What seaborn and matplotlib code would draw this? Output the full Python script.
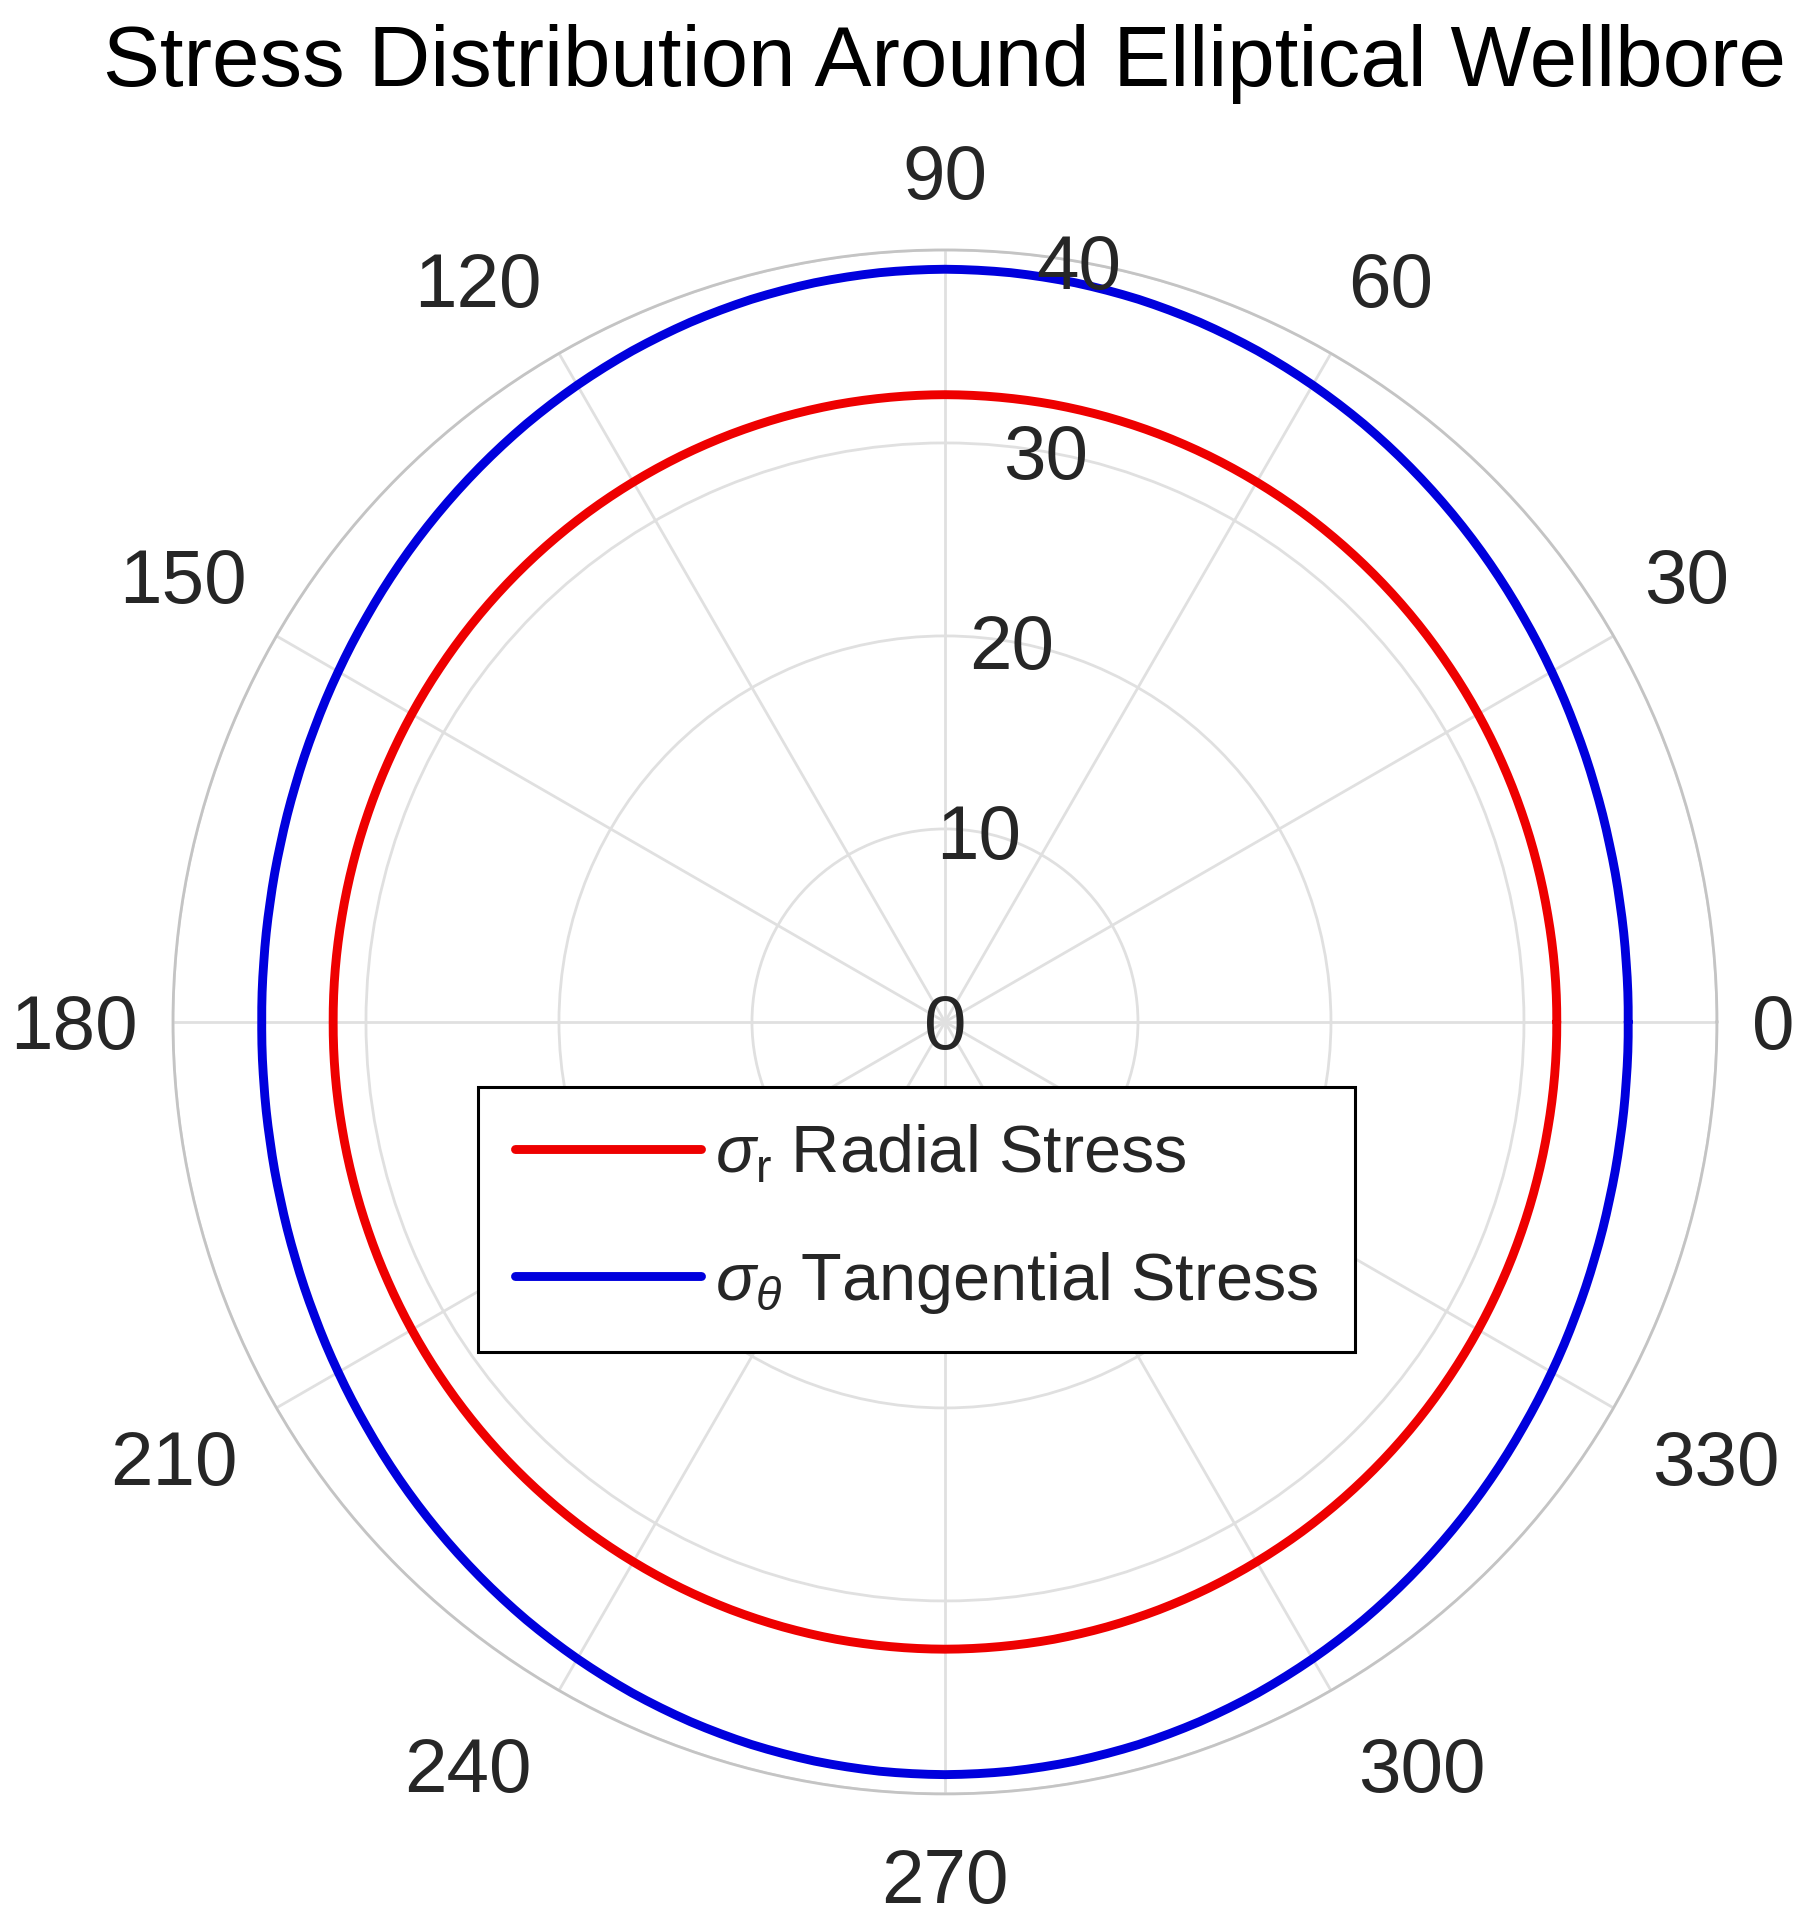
import numpy as np
import pandas as pd
import matplotlib
matplotlib.use("Agg")
import matplotlib.pyplot as plt
import seaborn as sns

# angle (deg) and stresses, every 5 degrees
theta_deg = list(range(0, 360, 5))
sigma_r = [31.70, 31.71, 31.72, 31.75, 31.79, 31.84, 31.90, 31.96, 32.03, 32.10, 32.17, 32.24, 32.30, 32.36, 32.41, 32.45, 32.48, 32.49,
           32.50, 32.49, 32.48, 32.45, 32.41, 32.36, 32.30, 32.24, 32.17, 32.10, 32.03, 31.96, 31.90, 31.84, 31.79, 31.75, 31.72, 31.71,
           31.70, 31.71, 31.72, 31.75, 31.79, 31.84, 31.90, 31.96, 32.03, 32.10, 32.17, 32.24, 32.30, 32.36, 32.41, 32.45, 32.48, 32.49,
           32.50, 32.49, 32.48, 32.45, 32.41, 32.36, 32.30, 32.24, 32.17, 32.10, 32.03, 31.96, 31.90, 31.84, 31.79, 31.75, 31.72, 31.71]
sigma_t = [35.40, 35.43, 35.51, 35.64, 35.82, 36.04, 36.30, 36.58, 36.89, 37.20, 37.51, 37.82, 38.10, 38.36, 38.58, 38.76, 38.89, 38.97,
           39.00, 38.97, 38.89, 38.76, 38.58, 38.36, 38.10, 37.82, 37.51, 37.20, 36.89, 36.58, 36.30, 36.04, 35.82, 35.64, 35.51, 35.43,
           35.40, 35.43, 35.51, 35.64, 35.82, 36.04, 36.30, 36.58, 36.89, 37.20, 37.51, 37.82, 38.10, 38.36, 38.58, 38.76, 38.89, 38.97,
           39.00, 38.97, 38.89, 38.76, 38.58, 38.36, 38.10, 37.82, 37.51, 37.20, 36.89, 36.58, 36.30, 36.04, 35.82, 35.64, 35.51, 35.43]

theta_ticks = [0, 30, 60, 90, 120, 150, 180, 210, 240, 270, 300, 330]
r_ticks = [0, 10, 20, 30, 40]
r_max = 40

sns.set_theme(style="white")
plt.rcParams['font.family'] = ['Liberation Sans', 'DejaVu Sans']
plt.rcParams['mathtext.fontset'] = 'custom'
plt.rcParams['mathtext.rm'] = 'Liberation Sans'
plt.rcParams['mathtext.it'] = 'Liberation Sans:italic'

# close the loop at 360 deg
df = pd.DataFrame({
    "theta": np.deg2rad(theta_deg + [360]),
    "sr": sigma_r + [sigma_r[0]],
    "st": sigma_t + [sigma_t[0]],
})

fig = plt.figure(figsize=(18.07, 19.30), dpi=100)
ax = fig.add_axes([0.0957, 0.0705, 0.8545, 0.80], projection="polar")

sns.lineplot(data=df, x="theta", y="sr", sort=False, estimator=None, ax=ax, color="#ee0000",
             linewidth=6.4, label=r"$\sigma_{\mathrm{r}}$ Radial Stress")
sns.lineplot(data=df, x="theta", y="st", sort=False, estimator=None, ax=ax, color="#0000dd",
             linewidth=6.4, label=r"$\sigma_{\theta}$ Tangential Stress")

# let the polar transform bend the segments into arcs
for line in ax.lines:
    line.get_path()._interpolation_steps = 8

ax.set_ylim(0, r_max)
ax.set_xticks(np.deg2rad(theta_ticks))
ax.set_yticks(r_ticks)
ax.set_xticklabels([])
ax.set_yticklabels([])
ax.set_xlabel("")
ax.set_ylabel("")
ax.grid(True, color="#e0e0e0", linewidth=2.0)
ax.spines["polar"].set_color("#c4c4c4")
ax.spines["polar"].set_linewidth(2.0)

tick_color = "#262626"
# angle labels, aligned away from the circle like MATLAB
for a in theta_ticks:
    c, s = np.cos(np.deg2rad(a)), np.sin(np.deg2rad(a))
    ha = "left" if c > 0.1 else ("right" if c < -0.1 else "center")
    if s > 0.3:
        va, rr = "bottom", 41.8
    elif s < -0.8:
        va, rr = "top", 42.8
    elif s < -0.3:
        va, rr = "top", 42.3
    else:
        va, rr = "center_baseline", 41.8
    ax.text(np.deg2rad(a), rr, str(a), ha=ha, va=va, fontsize=55, color=tick_color, clip_on=False)

# radial labels at 80 degrees
for r in r_ticks:
    ax.text(np.deg2rad(80), r, str(r), ha="center", va="center_baseline", fontsize=55, color=tick_color)

fig.text(945 / 1807, 1 - 86 / 1930, "Stress Distribution Around Elliptical Wellbore",
         ha="center", va="baseline", fontsize=61.5, color="black")

leg = ax.legend(loc="upper left", bbox_to_anchor=(478 / 1807, 1 - 1087 / 1930),
                bbox_transform=fig.transFigure, fontsize=48, frameon=True, fancybox=False,
                handlelength=2.8, handletextpad=0.2, labelspacing=0.95, borderpad=0.55,
                borderaxespad=0)
leg.get_frame().set_edgecolor("black")
leg.get_frame().set_linewidth(2.2)
leg.get_frame().set_alpha(1)

plt.savefig("out.png", dpi=100)
